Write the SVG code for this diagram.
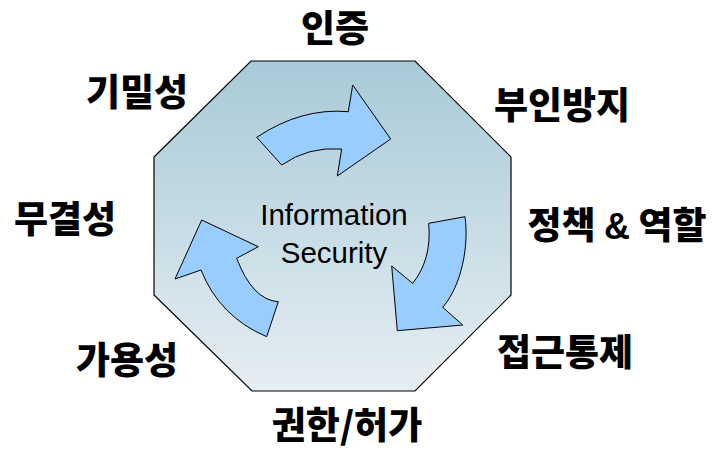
<svg xmlns="http://www.w3.org/2000/svg" width="717" height="450" viewBox="0 0 717 450">
<defs>
<linearGradient id="bg" x1="0" y1="0" x2="0" y2="1">
<stop offset="0" stop-color="#a8cad7"/>
<stop offset="1" stop-color="#e6eef3"/>
</linearGradient>
<style>
.lbl{font-family:"Noto Sans CJK KR","Liberation Sans",sans-serif;font-weight:900;font-size:37px;fill:#000;text-anchor:middle}
.amp{font-family:"Liberation Sans",Arial,sans-serif;font-weight:bold;font-size:36px}
.ctr{font-family:"Liberation Sans",Arial,sans-serif;font-size:29.5px;fill:#000;text-anchor:middle}
.arr{fill:#99ccff;stroke:#000;stroke-width:1}
</style>
</defs>
<rect width="717" height="450" fill="#fff"/>
<g id="octagon">
<polygon points="251,61 415,61 511,157 511,295 415,391 252,391 154,295 154,157" fill="url(#bg)" stroke="#000" stroke-width="1.2"/>
<text class="ctr" x="334" y="225">Information</text>
<text class="ctr" x="334" y="263">Security</text>
</g>
<g id="connectors">
<path class="arr" d="M256.7,137.3 Q301.5,107.5 348.3,111.7 L352.7,85 L390.7,139 L337.3,176 L341.7,149 Q308.3,146.4 281.7,165 Z"/>
<path class="arr" d="M428.7,223.3 L465,216.7 C469,245 462,285 442.7,307.3 L462.7,325 L397.3,330.7 L391.7,266 L412.7,283.3 C425,268 431,248 428.7,223.3 Z"/>
<path class="arr" d="M175,279 L201.7,220 L258.3,246.7 L236.7,258.3 Q252.5,300 278.3,301.7 L266.7,336.7 Q219.6,316.7 201,270 Z"/>
</g>
<g id="n-auth"><text class="lbl" x="335" y="42">인증</text></g>
<g id="n-conf"><text class="lbl" x="137" y="106">기밀성</text></g>
<g id="n-nonrep"><text class="lbl" x="562" y="119">부인방지</text></g>
<g id="n-integ"><text class="lbl" x="65" y="233">무결성</text></g>
<g id="n-policy"><text class="lbl" x="617" y="239">정책 <tspan class="amp">&amp;</tspan> 역할</text></g>
<g id="n-avail"><text class="lbl" x="127" y="374">가용성</text></g>
<g id="n-access"><text class="lbl" x="565" y="366">접근통제</text></g>
<g id="n-authz"><text class="lbl" x="347" y="439">권한/허가</text></g>
</svg>
